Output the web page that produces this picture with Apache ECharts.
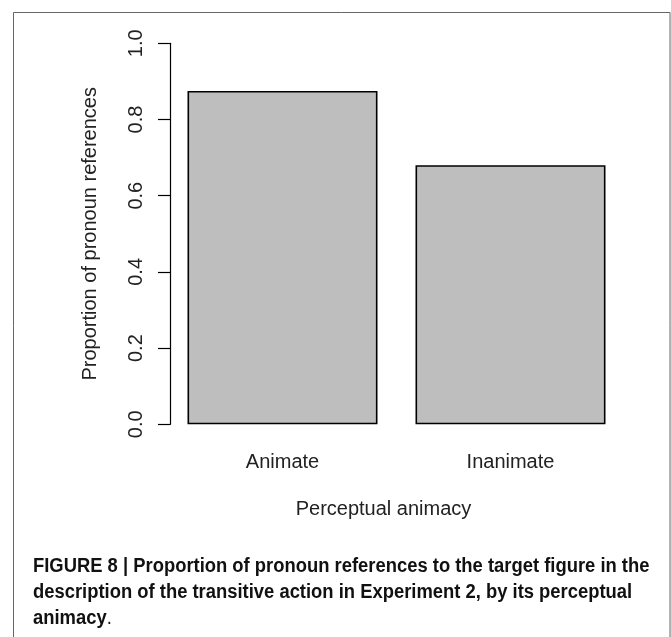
<!DOCTYPE html>
<html>
<head>
<meta charset="utf-8">
<script src="https://cdn.jsdelivr.net/npm/echarts@6/dist/echarts.min.js"></script>
<style>
html,body{margin:0;padding:0;background:#fff;}
#chart{width:671px;height:637px;}
</style>
</head>
<body>
<div id="chart"></div>
<script>
const categories = ['Animate', 'Inanimate'];
const proportions = [0.875, 0.68];
const yAxisTitle = 'Proportion of pronoun references';
const xAxisTitle = 'Perceptual animacy';
const captionBold = [
  'FIGURE 8 | Proportion of pronoun references to the target figure in the',
  'description of the transitive action in Experiment 2, by its perceptual',
  'animacy'
];

const chart = echarts.init(document.getElementById('chart'), null, {renderer: 'canvas'});
const FONT = '"Liberation Sans", Arial, Helvetica, sans-serif';
const CAPFONT = '"Liberation Sans Narrow", "Liberation Sans", Arial, sans-serif';
const TXT = '#222';

chart.setOption({
  animation: false,
  backgroundColor: '#ffffff',
  grid: {left: 168.5, top: 43.3, width: 456, height: 381},
  xAxis: {
    type: 'category',
    data: categories,
    axisLine: {show: false},
    axisTick: {show: false},
    axisLabel: {color: TXT, fontFamily: FONT, fontSize: 20, margin: 28},
    name: xAxisTitle,
    nameLocation: 'middle',
    nameGap: 75,
    nameTextStyle: {color: TXT, fontFamily: FONT, fontSize: 20, padding: [0, 26, 0, 0]}
  },
  yAxis: {
    type: 'value',
    min: 0, max: 1, interval: 0.2,
    offset: -1.5,
    splitLine: {show: false},
    axisLine: {show: true, lineStyle: {color: '#000', width: 1.2}},
    axisTick: {show: true, length: 12, lineStyle: {color: '#000', width: 1.2}},
    axisLabel: {
      color: TXT, fontFamily: FONT, fontSize: 20, rotate: 90, margin: 24,
      align: 'center', verticalAlign: 'bottom',
      formatter: v => v.toFixed(1)
    },
    name: yAxisTitle,
    nameLocation: 'middle',
    nameGap: 70,
    nameTextStyle: {color: TXT, fontFamily: FONT, fontSize: 20}
  },
  series: [{
    type: 'bar',
    data: proportions,
    barCategoryGap: '16.67%',
    itemStyle: {color: '#bebebe', borderColor: '#000', borderWidth: 1.6}
  }],
  graphic: [
    {
      type: 'rect',
      shape: {x: 13.5, y: 12.5, width: 656.5, height: 700},
      style: {fill: 'none', stroke: '#666', lineWidth: 1},
      silent: true
    },
    {
      type: 'text', x: 33, y: 553, scaleX: 0.92,
      style: {
        text: captionBold[0] + '\n' + captionBold[1] + '\n{b|' + captionBold[2] + '}{n|.}',
        fontFamily: CAPFONT, fontSize: 20, fontWeight: 'bold', fill: '#111', lineHeight: 26,
        rich: {
          b: {fontFamily: CAPFONT, fontSize: 20, fontWeight: 'bold', fill: '#111', lineHeight: 26},
          n: {fontFamily: CAPFONT, fontSize: 20, fontWeight: 'normal', fill: '#111', lineHeight: 26}
        }
      }
    }
  ]
});
</script>
</body>
</html>
